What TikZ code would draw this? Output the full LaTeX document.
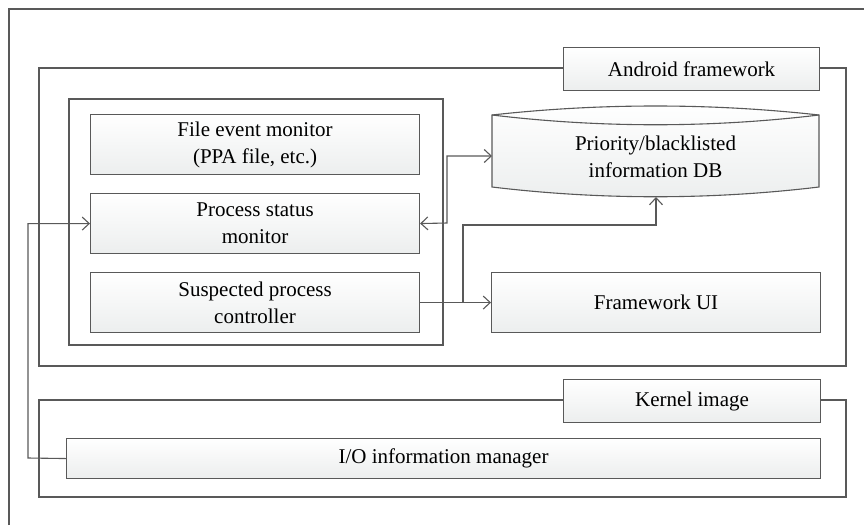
\documentclass[tikz,border=0pt]{standalone}
\usepackage{fontspec}
\setmainfont{Liberation Serif}
\usetikzlibrary{arrows.meta}
\definecolor{edge}{RGB}{89,89,89}
\definecolor{shadelow}{RGB}{236,238,238}
\tikzset{
  every node/.style={font=\fontsize{21}{27}\selectfont, text=black},
  frame/.style={draw=edge, line width=1.1pt},
  block/.style={frame, top color=white, bottom color=shadelow, anchor=north west,
    inner sep=0pt, align=center},
  conn/.style={draw=edge, line width=1.1pt, -{Straight Barb[length=7pt,width=13pt]}},
  biconn/.style={draw=edge, line width=1.1pt,
    {Straight Barb[length=7pt,width=13pt]}-{Straight Barb[length=7pt,width=13pt]}},
  plain/.style={draw=edge, line width=1.1pt}
}
\begin{document}
\begin{tikzpicture}[x=1pt,y=-1pt]
\useasboundingbox (0,0) rectangle (864,525);

% outermost frame (runs past the right and bottom edges)
\draw[frame] (9,525) -- (9,9) -- (864,9);

% Android framework layer
\draw[frame] (39,68) rectangle (846,366);
\node[block, minimum width=256pt, minimum height=43pt] (afw) at (563,47) {Android framework};

% monitor group
\draw[frame] (69,99) rectangle (443,345);
\node[block, minimum width=329pt, minimum height=60pt] (fem) at (90,114) {File event monitor\\(PPA file, etc.)};
\node[block, minimum width=329pt, minimum height=60pt] (psm) at (90,193) {Process status\\monitor};
\node[block, minimum width=329pt, minimum height=60pt] (spc) at (90,272) {Suspected process\\controller};

% priority / blacklist database
\shade[top color=white, bottom color=shadelow]
  (492,115) .. controls (600,103) and (711,103) .. (819,115)
  -- (819,187) .. controls (711,200) and (600,200) .. (492,187) -- cycle;
\draw[frame]
  (492,115) .. controls (600,103) and (711,103) .. (819,115)
  -- (819,187) .. controls (711,200) and (600,200) .. (492,187) -- cycle;
\draw[frame] (492,115) .. controls (600,128) and (711,128) .. (819,115);
\node[align=center] (db) at (655.5,157) {Priority/blacklisted\\information DB};
\coordinate (dbW) at (492,156);
\coordinate (dbS) at (656,197);

\node[block, minimum width=329pt, minimum height=60pt] (fui) at (491,272) {Framework UI};

% Kernel image layer
\draw[frame] (39,400) rectangle (846,497);
\node[block, minimum width=257pt, minimum height=43pt] (kim) at (563,379) {Kernel image};
\node[block, minimum width=754pt, minimum height=40pt] (iom) at (66,438) {I/O information manager};

% connectors
\coordinate (loopL) at (28,458);
\draw[conn] (iom.west) -- (loopL) |- (psm.west);

\coordinate (kneeA) at (447,223);
\coordinate (kneeB) at (447,156);
\draw[biconn] (psm.east) -- (kneeA) -- (kneeB) -- (dbW);

\coordinate (br) at (463,302);
\coordinate (kneeC) at (463,225);
\coordinate (kneeD) at (656,225);
\draw[conn] (spc.east) -- (fui.west);
\draw[conn] (br) -- (kneeC) -- (kneeD) -- (dbS);
\end{tikzpicture}
\end{document}
